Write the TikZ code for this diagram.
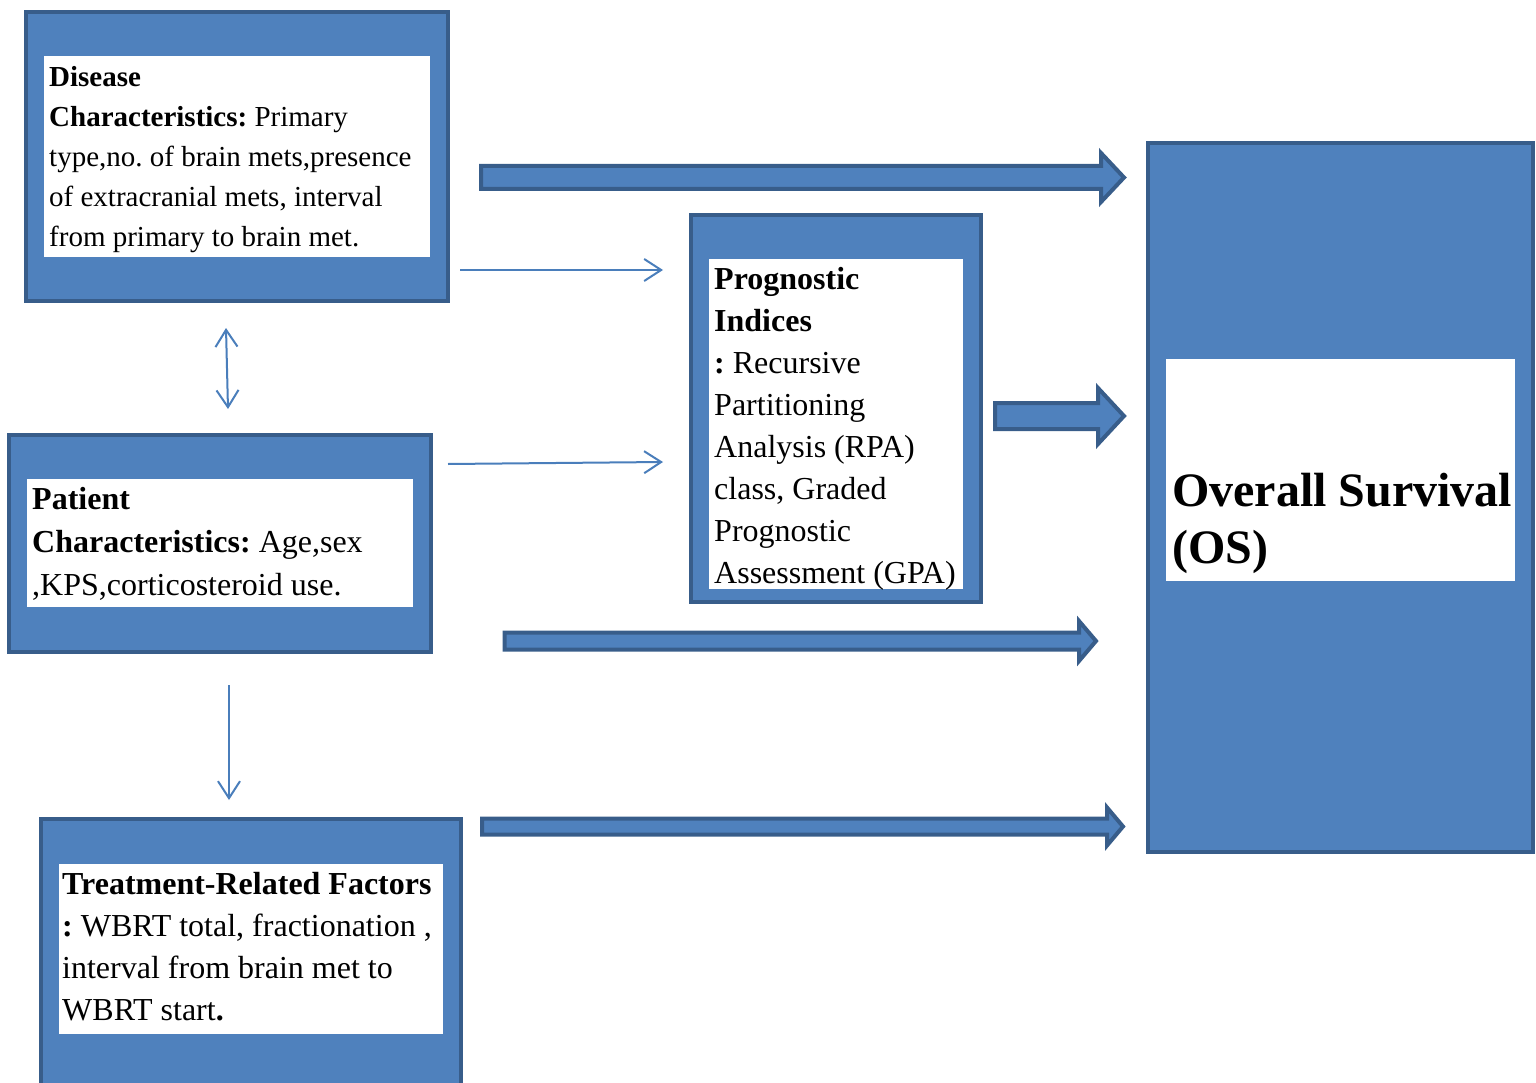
\documentclass[tikz,border=0pt]{standalone}
\usepackage{fontspec}
\setmainfont{Liberation Serif}
\frenchspacing
\usetikzlibrary{arrows.meta}
\definecolor{boxblue}{HTML}{4F81BD}
\definecolor{boxedge}{HTML}{385D8A}
\definecolor{lineblue}{HTML}{4A7EBB}
% block arrow: start x, head x, tip x, mid y, shaft half, head half
\newcommand{\fatarrow}[6]{%
  \draw[fat] (#1,{#4-#5}) -- (#2,{#4-#5}) -- (#2,{#4-#6}) -- (#3,#4)
    -- (#2,{#4+#6}) -- (#2,{#4+#5}) -- (#1,{#4+#5}) -- cycle;}

\begin{document}
\begin{tikzpicture}[x=1pt, y=-1pt, line join=miter,
    outerbox/.style={draw=boxedge, fill=boxblue, line width=4.5pt, inner sep=0pt, outer sep=0pt},
    whitebox/.style={fill=white, inner sep=0pt, outer sep=0pt},
    txt/.style={anchor=base west, align=left, inner sep=0pt},
    fat/.style={draw=boxedge, fill=boxblue, line width=4pt},
    thinarr/.style={draw=lineblue, line width=2pt},
    >={Straight Barb[length=17pt, width=22pt]}]
  \clip (0,0) rectangle (1536,1083);
  % ================= disease box =================
  \node[outerbox, minimum width=422, minimum height=289] (dis) at (237,156.5) {};
  \node[whitebox, minimum width=386, minimum height=201] (disw) at (237,156.5) {};
  % text nodes sit on the baseline of their last line
  \node[txt, font=\fontsize{29}{40}\selectfont] (distxt) at (49,247)
    {\textbf{Disease}\\ \textbf{Characteristics:} Primary\\ type,no. of brain mets,presence\\
     of extracranial mets, interval\\ from primary to brain met.};
  % ================= patient box =================
  \node[outerbox, minimum width=422, minimum height=217] (pat) at (220,543.5) {};
  \node[whitebox, minimum width=386, minimum height=128] (patw) at (220,543) {};
  \node[txt, font=\fontsize{32}{43}\selectfont] (pattxt) at (32,595)
    {\textbf{Patient}\\ \textbf{Characteristics:} Age,sex\\ ,KPS,corticosteroid use.};
  % ================= treatment box =================
  \node[outerbox, minimum width=420, minimum height=281] (trt) at (251,959.5) {};
  \node[whitebox, minimum width=384, minimum height=170] (trtw) at (251,949) {};
  \node[txt, font=\fontsize{32}{42}\selectfont] (trttxt) at (62,1020)
    {\textbf{Treatment-Related Factors}\\ \textbf{:} WBRT total, fractionation ,\\
     interval from brain met to\\ WBRT start\textbf{.}};
  % ================= prognostic indices =================
  \node[outerbox, minimum width=290, minimum height=387] (prg) at (836,408.5) {};
  \node[whitebox, minimum width=254, minimum height=330] (prgw) at (836,424) {};
  \node[txt, font=\fontsize{32}{42}\selectfont] (prgtxt) at (714,583)
    {\textbf{Prognostic}\\ \textbf{Indices}\\ \textbf{:} Recursive\\ Partitioning\\
     Analysis (RPA)\\ class, Graded\\ Prognostic\\ Assessment (GPA)};
  % ================= overall survival =================
  \node[outerbox, minimum width=385, minimum height=709] (os) at (1340.5,497.5) {};
  \node[whitebox, minimum width=349, minimum height=222] (osw) at (1340.5,470) {};
  \node[txt, font=\fontsize{48}{57}\selectfont\bfseries] (ostxt) at (1172,563)
    {Overall Survival\\ (OS)};
  % thin arrows
  \coordinate (d1) at (460,270);   \coordinate (p1) at (663,270);
  \coordinate (t1) at (448,464);   \coordinate (p2) at (663,462);
  \coordinate (d2) at (226,328);   \coordinate (t2) at (228,409);
  \coordinate (t3) at (229,685);   \coordinate (r1) at (229,800);
  \draw[thinarr, ->] (d1) -- (p1);
  \draw[thinarr, ->] (t1) -- (p2);
  \draw[thinarr, <->] (d2) -- (t2);
  \draw[thinarr, ->] (t3) -- (r1);
  % block arrows into OS
  \fatarrow{481}{1101}{1124}{177.5}{11.5}{24.5}
  \fatarrow{995}{1098}{1124}{416}{13}{28}
  \fatarrow{504.5}{1079}{1096}{641}{8.5}{20}
  \fatarrow{482}{1107}{1123}{826.5}{8}{19}
\end{tikzpicture}
\end{document}
